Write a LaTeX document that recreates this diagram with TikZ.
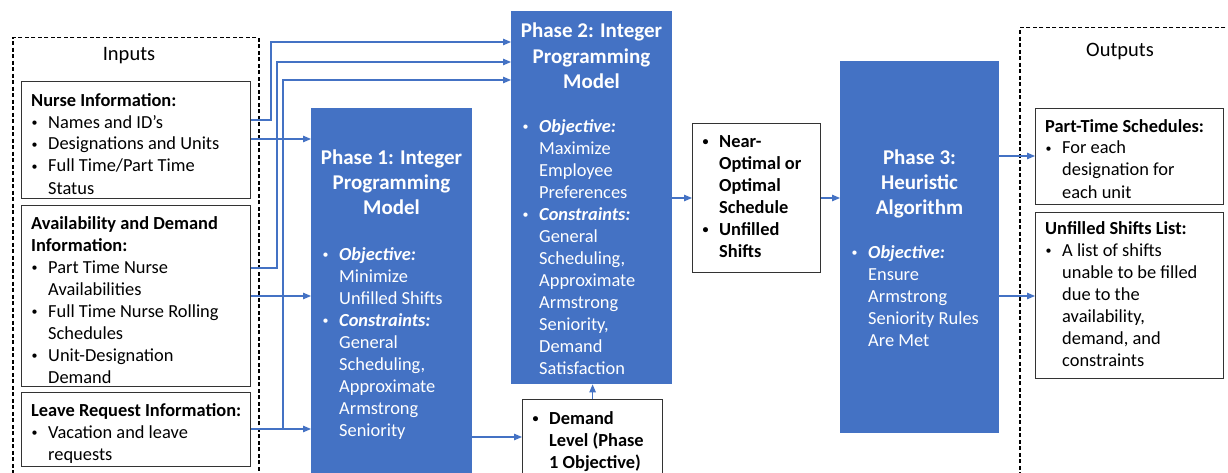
\documentclass[tikz,border=0pt]{standalone}
\usepackage{fontspec}
\setmainfont{Carlito}
\usetikzlibrary{arrows.meta}
\definecolor{pblue}{HTML}{4472C4}
\definecolor{lblue}{HTML}{4472C4}
\newcommand{\bu}{\makebox[17pt][l]{\hspace{0.5pt}\raisebox{1.6pt}{\fontsize{12}{12}\selectfont •}}}
\newcommand{\ii}{\hspace*{17pt}}
\begin{document}
\begin{tikzpicture}[x=1pt,y=-1pt,
  txt/.style={anchor=north west, inner sep=0, align=left, font=\fontsize{18.4}{22}\selectfont},
  btxt/.style={txt, font=\fontsize{18.4}{22}\selectfont\bfseries},
  wtxt/.style={txt, text=white},
  ttl/.style={anchor=north, inner sep=0, align=center, text=white, font=\fontsize{21}{25.3}\selectfont\bfseries},
  inbox/.style={draw=black!80, line width=1.2pt, anchor=north west, inner sep=0, rectangle},
  phase/.style={fill=pblue, anchor=north west, inner sep=0, rectangle},
  dbox/.style={draw=black, dash pattern=on 4pt off 2.5pt, line width=1.5pt, anchor=north west, inner sep=0},
  lbl/.style={anchor=base, inner sep=0, font=\fontsize{20.5}{24}\selectfont},
  arr/.style={draw=lblue, line width=1.1pt, -{Triangle[length=8pt,width=6.5pt]}},
]
\useasboundingbox (0,0) rectangle (1228,473);
\fill[white] (0,0) rectangle (1228,473);

% dashed groups
\node[dbox, minimum width=246pt, minimum height=460pt] (inputs) at (12,37) {};
\node[dbox, minimum width=240pt, minimum height=460pt] (outputs) at (1019,27) {};
\node[lbl] (inl) at (129,61) {Inputs};
\node[lbl] (outl) at (1120,56.7) {Outputs};

% input boxes
\node[inbox, minimum width=229pt, minimum height=117pt] (nurse) at (21,81) {};
\node[inbox, minimum width=229pt, minimum height=181pt] (avail) at (21,205) {};
\node[inbox, minimum width=229pt, minimum height=74pt] (leave) at (21,392) {};

% phases
\node[phase, minimum width=161pt, minimum height=382pt] (p1) at (311,108) {};
\node[phase, minimum width=161pt, minimum height=373pt] (p2) at (511,11) {};
\node[phase, minimum width=159pt, minimum height=372pt] (p3) at (840,61) {};

% middle boxes
\node[inbox, minimum width=128pt, minimum height=149pt] (near) at (692,123) {};
\node[inbox, minimum width=140pt, minimum height=90pt] (dem) at (522,399) {};

% output boxes
\node[inbox, minimum width=188pt, minimum height=96pt] (pt) at (1035,108) {};
\node[inbox, minimum width=188pt, minimum height=166pt] (uf) at (1035,212) {};

% texts
\node[txt] (nurseT) at (31,90.4) {\strut\textbf{Nurse Information:}\\ \bu Names and ID’s\\ \bu Designations and Units\\ \bu Full Time/Part Time\\ \ii Status};
\node[txt] (availT) at (31,213.4) {\strut\textbf{Availability and Demand}\\ \textbf{Information:}\\ \bu Part Time Nurse\\ \ii Availabilities\\ \bu Full Time Nurse Rolling\\ \ii Schedules\\ \bu Unit-Designation\\ \ii Demand};
\node[txt] (leaveT) at (31,400.4) {\strut\textbf{Leave Request Information:}\\ \bu Vacation and leave\\ \ii requests};

\node[ttl] (p1t) at (391.5,146.4) {\strut Phase 1: Integer\\ Programming\\ Model};
\node[wtxt] (p1b) at (322,244.4) {\strut\bu\textbf{\textit{Objective:}}\\ \ii Minimize\\ \ii Unfilled Shifts\\ \bu\textbf{\textit{Constraints:}}\\ \ii General\\ \ii Scheduling,\\ \ii Approximate\\ \ii Armstrong\\ \ii Seniority};

\node[ttl] (p2t) at (591.5,19.8) {\strut Phase 2: Integer\\ Programming\\ Model};
\node[wtxt] (p2b) at (522,116.4) {\strut\bu\textbf{\textit{Objective:}}\\ \ii Maximize\\ \ii Employee\\ \ii Preferences\\ \bu\textbf{\textit{Constraints:}}\\ \ii General\\ \ii Scheduling,\\ \ii Approximate\\ \ii Armstrong\\ \ii Seniority,\\ \ii Demand\\ \ii Satisfaction};

\node[ttl] (p3t) at (919.5,146.4) {\strut Phase 3:\\ Heuristic\\ Algorithm};
\node[wtxt] (p3b) at (851,242.8) {\strut\bu\textbf{\textit{Objective:}}\\ \ii Ensure\\ \ii Armstrong\\ \ii Seniority Rules\\ \ii Are Met};

\node[btxt] (nearT) at (702,131.4) {\strut\bu Near-\\ \ii Optimal or\\ \ii Optimal\\ \ii Schedule\\ \bu Unfilled\\ \ii Shifts};
\node[btxt] (demT) at (532,408.4) {\strut\bu Demand\\ \ii Level (Phase\\ \ii 1 Objective)};

\node[txt] (ptT) at (1045,116.4) {\strut\textbf{Part-Time Schedules:}\\ \bu For each\\ \ii designation for\\ \ii each unit};
\node[txt] (ufT) at (1045,218.4) {\strut\textbf{Unfilled Shifts List:}\\ \bu A list of shifts\\ \ii unable to be filled\\ \ii due to the\\ \ii availability,\\ \ii demand, and\\ \ii constraints};

% connectors
\coordinate (v1) at (271,0);
\coordinate (v2) at (277,0);
\coordinate (v3) at (283,0);
\draw[arr] (nurse.east |- 0,120) -| (v1 |- 0,42) -- (p2.west |- 0,42);
\draw[arr] (avail.east |- 0,268) -| (v2 |- 0,62) -- (p2.west |- 0,62);
\draw[arr] (leave.east |- 0,429) -- (p1.west |- 0,429);
\draw[arr] (v3 |- 0,429) -- (v3 |- 0,80) -- (p2.west |- 0,80);
\draw[arr] (nurse.east |- 0,139) -- (p1.west |- 0,139);
\draw[arr] (avail.east |- 0,296) -- (p1.west |- 0,296);
\draw[arr] (p2.east |- 0,198) -- (near.west |- 0,198);
\draw[arr] (near.east |- 0,198) -- (p3.west |- 0,198);
\draw[arr] (p1.east |- 0,437) -- (dem.west |- 0,437);
\draw[arr] (dem.north) -- (dem.north |- p2.south);
\draw[arr] (p3.east |- 0,156) -- (pt.west |- 0,156);
\draw[arr] (p3.east |- 0,296) -- (uf.west |- 0,296);
\end{tikzpicture}
\end{document}
